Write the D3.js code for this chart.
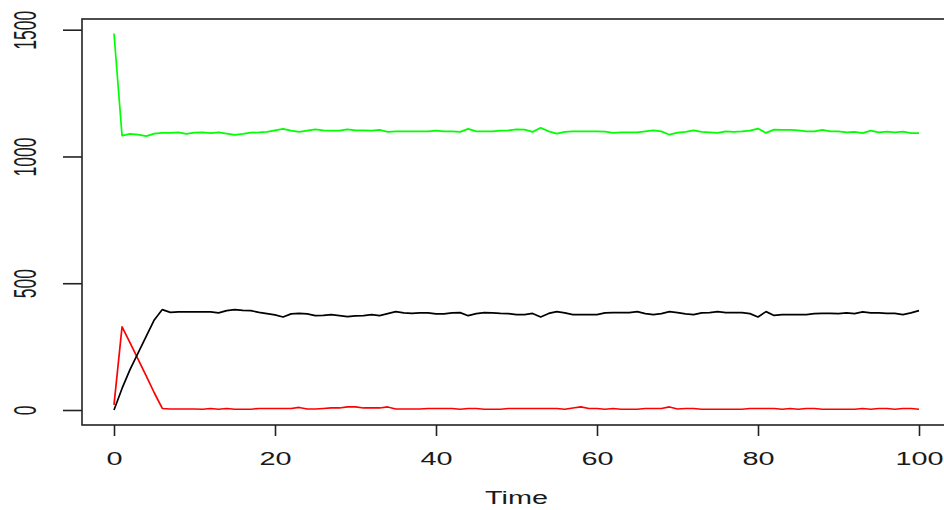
<!DOCTYPE html>
<html>
<head>
<meta charset="utf-8">
<script src="https://cdn.jsdelivr.net/npm/d3@7/dist/d3.min.js"></script>
<style>
	body { margin: 0; background: #fff; }
	svg { display: block; }
	.tickLabel { font-family: "Liberation Sans", Arial, sans-serif; fill: #1a1a1a; }
</style>
</head>
<body>
<div id="chart"></div>
<script>
// values, one per time step 0..100
const susceptible = [1485, 1082, 1089, 1086, 1080, 1090, 1093, 1093, 1095, 1089,
	1094, 1095, 1092, 1095, 1090, 1085, 1089, 1094, 1095, 1097,
	1103, 1109, 1102, 1097, 1102, 1107, 1103, 1102, 1102, 1107,
	1103, 1103, 1102, 1105, 1097, 1099, 1099, 1099, 1099, 1099,
	1102, 1099, 1099, 1097, 1109, 1099, 1099, 1099, 1102, 1103,
	1107, 1106, 1097, 1113, 1099, 1090, 1097, 1099, 1099, 1099,
	1099, 1098, 1093, 1095, 1095, 1095, 1099, 1103, 1099, 1086,
	1094, 1097, 1103, 1097, 1095, 1093, 1099, 1097, 1099, 1102,
	1110, 1093, 1106, 1105, 1105, 1103, 1099, 1099, 1105, 1099,
	1099, 1095, 1097, 1092, 1102, 1095, 1098, 1095, 1098, 1092, 1092];

const infected = [20, 328, 265, 200, 135, 68, 6, 4, 4, 4,
	4, 3, 6, 3, 6, 3, 3, 3, 6, 6,
	6, 6, 6, 10, 4, 4, 6, 8, 8, 12,
	12, 8, 8, 8, 12, 4, 4, 4, 4, 6,
	6, 6, 6, 3, 6, 6, 3, 3, 3, 6,
	6, 6, 6, 6, 6, 6, 3, 8, 12, 6,
	6, 3, 6, 3, 3, 3, 6, 6, 6, 12,
	4, 6, 6, 3, 3, 3, 3, 3, 3, 6,
	6, 6, 6, 3, 6, 3, 6, 6, 3, 3,
	3, 3, 3, 6, 3, 6, 6, 3, 6, 6, 3];

const recovered = [0, 85, 160, 225, 290, 355, 396, 385, 387, 387,
	387, 387, 387, 383, 392, 396, 393, 392, 385, 380,
	375, 367, 379, 381, 379, 372, 373, 376, 372, 368,
	371, 372, 376, 372, 380, 388, 383, 381, 383, 383,
	379, 379, 383, 384, 372, 380, 384, 383, 381, 380,
	376, 376, 381, 367, 381, 388, 383, 376, 376, 376,
	376, 383, 384, 384, 384, 388, 380, 376, 380, 388,
	384, 379, 376, 383, 384, 388, 384, 384, 384, 380,
	367, 388, 373, 376, 376, 376, 376, 380, 381, 381,
	380, 383, 380, 387, 383, 383, 381, 381, 376, 383, 392];

const xTicks = [0, 20, 40, 60, 80, 100];
const yTicks = [0, 500, 1000, 1500];
const xLabel = 'Time';

const seriesList = [
	{ name: 'S', values: susceptible, color: '#00ff00' },
	{ name: 'I', values: infected, color: '#ff0000' },
	{ name: 'R', values: recovered, color: '#000000' }
];

const W = 944, H = 510;
const box = { left: 82, top: 19, right: 948, bottom: 425 };
// the reference is stretched sideways, so text is too
const fontSize = 17.5, xStretch = 1.65, yStretch = 1.84;

const svg = d3.select('#chart').append('svg')
	.attr('width', W)
	.attr('height', H);

const xScale = d3.scaleLinear()
	.domain([0, 100])
	.range([114, 919]);

const yScale = d3.scaleLinear()
	.domain([0, 1500])
	.range([410, 29.7]);

// series lines
const valueLine = (vals) => d3.line()
	.x((d, i) => xScale(i))
	.y(d => yScale(d))(vals);

seriesList.forEach(function(s){
	svg.append('path')
		.attr('class', 'line-' + s.name)
		.attr('fill', 'none')
		.attr('stroke', s.color)
		.attr('stroke-width', 1.7)
		.attr('stroke-linejoin', 'round')
		.attr('d', valueLine(s.values));
});

// plot frame
svg.append('rect')
	.attr('x', box.left)
	.attr('y', box.top)
	.attr('width', box.right - box.left)
	.attr('height', box.bottom - box.top)
	.attr('fill', 'none')
	.attr('stroke', '#222')
	.attr('stroke-width', 1.6);

// x axis
const xAxis = svg.append('g')
	.attr('class', 'x axis')
	.attr('transform', 'translate(0,' + box.bottom + ')')
	.call(d3.axisBottom(xScale)
		.tickValues(xTicks)
		.tickSize(11)
		.tickSizeOuter(0)
		.tickFormat(d3.format('d')));
xAxis.select('.domain').remove();
xAxis.selectAll('line').attr('stroke', '#222').attr('stroke-width', 1.6);
xAxis.selectAll('text')
	.attr('class', 'tickLabel')
	.attr('y', null).attr('dy', null)
	.attr('font-size', fontSize)
	.attr('text-anchor', 'middle')
	.attr('transform', 'translate(0,40) scale(' + xStretch + ',1)');

// y axis, labels turned parallel to the axis
const yAxis = svg.append('g')
	.attr('class', 'y axis')
	.attr('transform', 'translate(' + box.left + ',0)')
	.call(d3.axisLeft(yScale)
		.tickValues(yTicks)
		.tickSize(19)
		.tickSizeOuter(0)
		.tickFormat(d3.format('d')));
yAxis.select('.domain').remove();
yAxis.selectAll('line').attr('stroke', '#222').attr('stroke-width', 1.6);
yAxis.selectAll('text')
	.attr('class', 'tickLabel')
	.attr('x', null).attr('dy', null)
	.attr('font-size', fontSize)
	.attr('text-anchor', 'middle')
	.attr('transform', 'translate(-46,0) scale(' + yStretch + ',1) rotate(-90)');

svg.append('text')
	.attr('class', 'tickLabel')
	.attr('font-size', fontSize)
	.attr('text-anchor', 'middle')
	.attr('transform', 'translate(' + xScale(50) + ',504) scale(' + xStretch + ',1)')
	.text(xLabel);
</script>
</body>
</html>
